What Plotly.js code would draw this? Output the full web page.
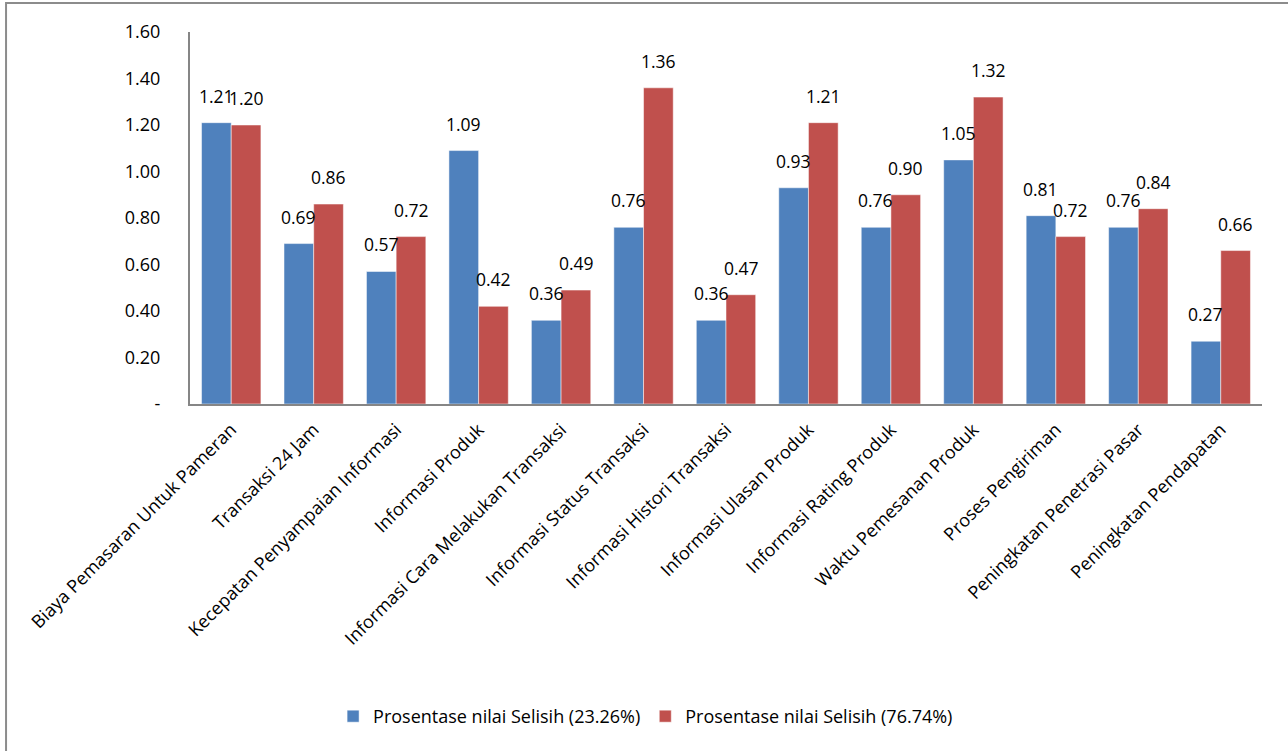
<!DOCTYPE html>
<html><head><meta charset="utf-8">
<script src="https://cdn.plot.ly/plotly-3.0.1.min.js"></script>
<style>html,body{margin:0;padding:0;background:#fff;}#chart{width:1288px;height:751px;}</style>
</head><body><div id="chart"></div>
<script>
const categories = ["Biaya Pemasaran Untuk Pameran","Transaksi 24 Jam","Kecepatan Penyampaian Informasi","Informasi Produk","Informasi Cara Melakukan Transaksi","Informasi Status Transaksi","Informasi Histori Transaksi","Informasi Ulasan Produk","Informasi Rating Produk","Waktu Pemesanan Produk","Proses Pengiriman","Peningkatan Penetrasi Pasar","Peningkatan Pendapatan"];
const series1Name = "Prosentase nilai Selisih (23.26%)";
const series2Name = "Prosentase nilai Selisih (76.74%)";
const series1 = [1.21,0.69,0.57,1.09,0.36,0.76,0.36,0.93,0.76,1.05,0.81,0.76,0.27];
const series2 = [1.20,0.86,0.72,0.42,0.49,1.36,0.47,1.21,0.90,1.32,0.72,0.84,0.66];
const tickVals = [0,0.2,0.4,0.6,0.8,1.0,1.2,1.4,1.6];
const tickText = ["-","0.20","0.40","0.60","0.80","1.00","1.20","1.40","1.60"];

const font = "Open Sans, sans-serif";
const traces = [
  {type:'bar', name:series1Name, x:categories, y:series1, marker:{color:'#4f81bd', line:{color:'#ffffff', width:0.5}}},
  {type:'bar', name:series2Name, x:categories, y:series2, marker:{color:'#c0504d', line:{color:'#ffffff', width:0.5}}}
];
const annotations = [];
[[series1,-15],[series2,15]].forEach(([s,dx])=>{
  s.forEach((v,i)=>{
    annotations.push({x:categories[i], y:v, xref:'x', yref:'y', text:v.toFixed(2), showarrow:false,
      xshift:dx, yshift:13, yanchor:'bottom', xanchor:'center', font:{family:font, size:17.5, color:'#000'}});
  });
});
const layout = {
  width:1288, height:751,
  margin:{l:190, r:26, t:32, b:347},
  paper_bgcolor:'#fff', plot_bgcolor:'#fff',
  barmode:'group', bargap:0.28, bargroupgap:0,
  showlegend:true,
  legend:{orientation:'h', x:0.425, xanchor:'center', y:-0.84, yanchor:'middle', font:{family:font, size:18, color:'#000'}, itemwidth:30, traceorder:'normal'},
  xaxis:{type:'category', tickangle:-45, tickfont:{family:font, size:18, color:'#000'}, showline:true, linecolor:'#868686', linewidth:2, ticks:'outside', ticklen:6, tickcolor:'rgba(0,0,0,0)', showgrid:false, zeroline:false},
  yaxis:{range:[0,1.6], tickvals:tickVals, ticktext:tickText, tickfont:{family:font, size:18, color:'#000'}, showline:true, linecolor:'#868686', linewidth:2, ticks:'outside', ticklen:24, tickcolor:'rgba(0,0,0,0)', showgrid:false, zeroline:false},
  annotations:annotations,
  shapes:[{type:'rect', xref:'paper', yref:'paper', x0:-0.1716, x1:1.05, y0:-1.2, y1:1.078, line:{color:'#8c8c8c', width:2}, fillcolor:'rgba(0,0,0,0)', layer:'above'}]
};
Plotly.newPlot('chart', traces, layout, {displayModeBar:false, staticPlot:true});
</script>
</body></html>
